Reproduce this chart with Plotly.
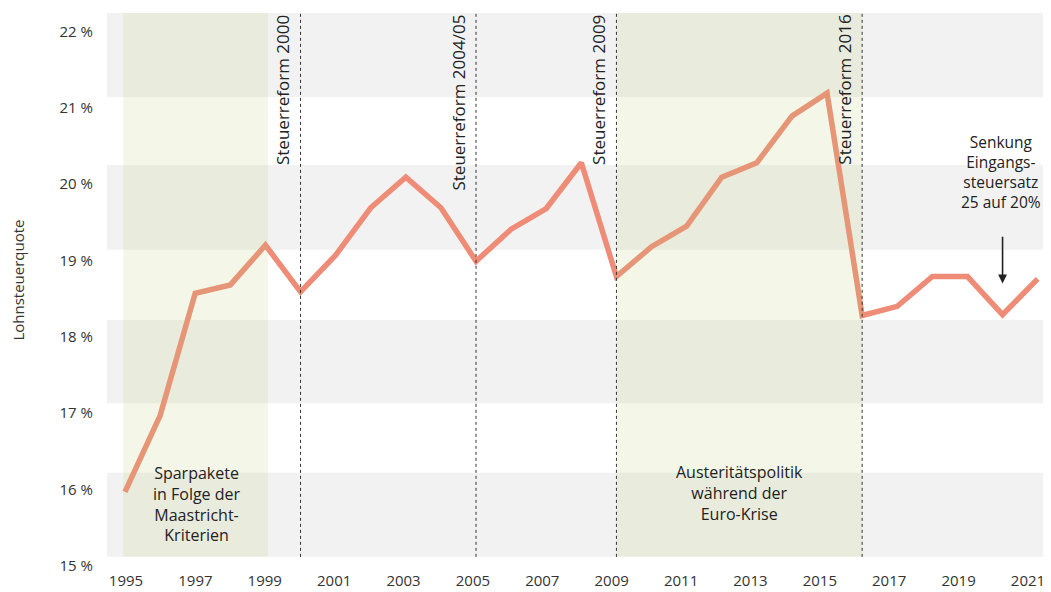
import plotly.graph_objects as go

# Lohnsteuerquote in Prozent, 1995-2021
years = list(range(1995, 2022))
quote = [15.97, 16.97, 18.57, 18.68, 19.2, 18.59, 19.07, 19.69, 20.09, 19.69,
         18.99, 19.41, 19.68, 20.28, 18.79, 19.18, 19.45, 20.09, 20.28, 20.89,
         21.19, 18.28, 18.4, 18.79, 18.79, 18.29, 18.76]

y_ticks = [15, 16, 17, 18, 19, 20, 21, 22]
y_ticktext = ['15 %', '16 %', '17 %', '18 %', '19 %', '20 %', '21 %', '22 %']
x_ticks = list(range(1995, 2022, 2))

reform_years = [2000, 2005, 2009, 2016]
reform_labels = ['Steuerreform 2000', 'Steuerreform 2004/05',
                 'Steuerreform 2009', 'Steuerreform 2016']

# grey background stripes and green period bands
stripes = [(15.12, 16.22), (17.13, 18.22), (19.14, 20.25), (21.14, 22.24)]
periods = [(1994.95, 1999.07), (2009, 2016)]

FONT = 'Open Sans'
DARK = '#222222'

fig = go.Figure()
fig.add_trace(go.Scatter(
    x=years, y=quote, mode='lines',
    line=dict(color='#EF8C77', width=5.5),
    hoverinfo='skip', showlegend=False,
))
# draws nothing, only makes the label axis x2 appear
fig.add_trace(go.Scatter(x=years, y=quote, xaxis='x2', mode='none',
                         hoverinfo='skip', showlegend=False))

for y0, y1 in stripes:
    fig.add_shape(type='rect', xref='paper', yref='y', x0=0, x1=1, y0=y0, y1=y1,
                  fillcolor='#F2F2F2', line_width=0, layer='below')

for x0, x1 in periods:
    fig.add_shape(type='rect', xref='x', yref='y', x0=x0, x1=x1, y0=15.12, y1=22.24,
                  fillcolor='rgba(190,202,120,0.17)', line_width=0, layer='above')

for yr, lab in zip(reform_years, reform_labels):
    fig.add_shape(type='line', xref='x', yref='y', x0=yr, x1=yr, y0=15.12, y1=22.24,
                  line=dict(color='#333333', width=1, dash='dot'), layer='above')
    fig.add_annotation(x=yr, y=22.24, xref='x', yref='y', text=lab, textangle=-90,
                       xanchor='right', yanchor='top', xshift=-5, showarrow=False,
                       font=dict(family=FONT, size=17, color=DARK))

fig.add_annotation(x=1997.05, y=15.81, text='Sparpakete<br>in Folge der<br>Maastricht-<br>Kriterien',
                   showarrow=False, xanchor='center', yanchor='middle',
                   font=dict(family=FONT, size=16, color=DARK))
fig.add_annotation(x=2012.5, y=15.95, text='Austeritätspolitik<br>während der<br>Euro-Krise',
                   showarrow=False, xanchor='center', yanchor='middle',
                   font=dict(family=FONT, size=16, color=DARK))
fig.add_annotation(x=2019.95, y=20.16, text='Senkung<br>Eingangs-<br>steuersatz<br>25 auf 20%',
                   showarrow=False, xanchor='center', yanchor='middle',
                   font=dict(family=FONT, size=15.5, color=DARK))
# arrow to 2020
fig.add_annotation(x=2020, y=18.70, ax=2020, ay=19.33, xref='x', yref='y',
                   axref='x', ayref='y', text='', showarrow=True,
                   arrowhead=2, arrowsize=1.1, arrowwidth=1.6, arrowcolor=DARK, standoff=0)

# y axis title
fig.add_annotation(x=-0.094, y=18.74, xref='paper', yref='y', text='Lohnsteuerquote',
                   textangle=-90, showarrow=False, xanchor='center', yanchor='middle',
                   font=dict(family=FONT, size=15, color='#333333'))

# page body adds 8px, so the figure is a bit smaller than the window
fig.update_layout(
    width=1043, height=584,
    margin=dict(l=99, r=0, t=5, b=26),
    paper_bgcolor='white', plot_bgcolor='white',
    xaxis=dict(range=[1994.487, 2021.38], showticklabels=False, showgrid=False,
               zeroline=False, showline=False, ticks=''),
    # year labels sit on a slightly tighter scale in the original
    xaxis2=dict(range=[1994.452, 2021.664], overlaying='x', side='bottom',
                tickvals=x_ticks, showgrid=False, zeroline=False, showline=False,
                ticks='outside', ticklen=1, tickcolor='rgba(0,0,0,0)',
                automargin=False, ticklabeloverflow='allow',
                tickfont=dict(family=FONT, size=15, color='#333333')),
    yaxis=dict(range=[15, 22.24], tickvals=y_ticks, ticktext=y_ticktext,
               showgrid=False, zeroline=False, showline=False,
               ticks='outside', ticklen=10, tickcolor='rgba(0,0,0,0)', automargin=False,
               tickfont=dict(family=FONT, size=15, color='#333333')),
)

fig.write_html('out.html')
